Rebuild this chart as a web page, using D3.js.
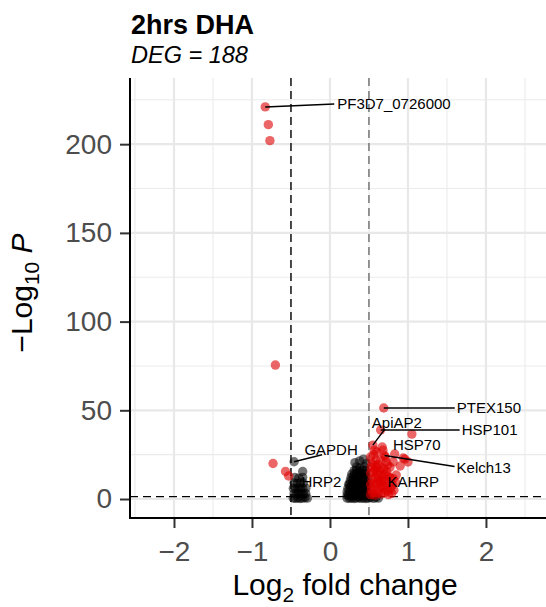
<!DOCTYPE html>
<html><head><meta charset="utf-8">
<script src="https://cdn.jsdelivr.net/npm/d3@7"></script>
<style>body{margin:0;background:#fff}svg{display:block}text{font-family:"Liberation Sans",Arial,sans-serif}</style>
</head><body>
<svg id="c" width="546" height="607"></svg>
<script>
// ---- data ----
const chartTitle = "2hrs DHA";
const chartSubtitle = "DEG = 188";
const xTicks = [-2, -1, 0, 1, 2];
const yTicks = [0, 50, 100, 150, 200];
const fcCutoff = 0.5;
const pCutoff = 1.301;

// non-significant genes near zero [log2FC, -log10P]
const nsMain = [
 [0.22,0.5],[0.25,0.4],[0.28,0.6],[0.31,0.3],[0.34,0.5],[0.37,0.7],[0.40,0.4],[0.43,0.6],[0.46,0.3],[0.49,0.5],[0.52,0.8],[0.56,0.4],[0.59,0.9],[0.62,0.5],
 [0.22,2.1],[0.24,2.1],[0.27,1.8],[0.30,2.3],[0.33,1.9],[0.36,2.2],[0.39,1.7],[0.42,2.4],[0.45,2.0],[0.48,1.9],
 [0.22,4.0],[0.25,4.1],[0.28,3.8],[0.31,4.3],[0.34,3.9],[0.37,4.2],[0.40,3.7],[0.43,4.4],[0.46,4.0],[0.49,3.9],
 [0.23,6.0],[0.26,6.2],[0.29,5.8],[0.32,6.1],[0.35,6.3],[0.38,5.9],[0.41,6.0],[0.44,6.4],[0.47,5.7],
 [0.24,8.3],[0.25,8.1],[0.28,7.9],[0.31,8.3],[0.34,8.0],[0.37,7.8],[0.40,8.2],[0.43,8.1],[0.46,7.7],[0.49,8.3],
 [0.26,10.2],[0.29,9.8],[0.32,10.1],[0.35,10.3],[0.38,9.9],[0.41,10.0],[0.44,10.4],[0.47,9.7],
 [0.27,12.1],[0.30,11.8],[0.33,12.3],[0.36,12.0],[0.39,11.9],[0.42,12.2],[0.45,12.0],[0.48,11.8],
 [0.28,14.1],[0.31,13.8],[0.34,14.2],[0.37,14.0],[0.40,13.9],[0.43,14.3],[0.46,14.1],
 [0.31,16.0],[0.34,16.3],[0.38,15.8],[0.42,16.2],[0.46,15.9],
 [0.34,18.1],[0.38,17.6],[0.44,18.2],
 [0.32,20.5],[0.38,21.5],[0.43,22.5],[0.47,20.0]
];
const nsLeft = [
 [-0.47,0.5],[-0.44,0.4],[-0.41,0.6],[-0.38,0.3],[-0.35,0.5],[-0.32,0.7],[-0.29,0.5],
 [-0.46,3.1],[-0.43,2.8],[-0.40,3.2],[-0.37,2.9],[-0.34,3.0],[-0.31,3.1],
 [-0.47,6.0],[-0.44,5.8],[-0.41,6.2],[-0.38,6.1],[-0.35,5.9],[-0.31,6.1],
 [-0.46,9.1],[-0.42,8.8],[-0.38,9.2],[-0.34,9.0],
 [-0.45,12.1],[-0.40,11.8],[-0.35,12.2],
 [-0.35,15.5],[-0.46,21.0]
];
// significant genes
const sigPoints = [
 [-0.83,221.0],[-0.79,211.0],[-0.77,202.0],[-0.70,75.5],[-0.73,20.0],[-0.57,15.5],[-0.53,13.0],
 [0.52,2.5],[0.55,3.5],[0.58,2.2],[0.62,3.4],[0.66,2.8],[0.70,3.6],[0.75,2.5],[0.79,3.2],
 [0.53,5.5],[0.57,6.4],[0.61,5.0],[0.65,6.8],[0.69,5.8],[0.74,4.5],[0.78,6.0],[0.82,5.0],
 [0.52,8.2],[0.56,9.0],[0.60,8.5],[0.64,9.6],[0.68,8.0],[0.72,7.2],[0.76,9.0],[0.80,8.0],[0.84,9.5],
 [0.54,11.2],[0.58,12.0],[0.62,11.0],[0.66,10.0],[0.70,10.8],[0.68,12.4],[0.77,12.0],[0.81,11.5],
 [0.52,14.7],[0.56,15.5],[0.60,14.2],[0.64,16.0],[0.73,15.2],[0.63,13.5],[0.74,13.0],[0.70,14.0],[0.85,13.5],
 [0.53,18.0],[0.57,19.0],[0.60,18.0],[0.66,17.5],[0.77,18.0],[0.90,18.6],[0.58,16.5],[0.69,17.0],
 [0.54,20.3],[0.59,22.0],[0.52,23.7],[0.74,19.2],[0.81,20.9],[1.00,20.9],[0.96,22.5],[0.94,23.1],[0.62,19.5],[0.72,21.0],[0.65,22.0],
 [0.60,26.5],[0.71,23.7],[0.83,25.4],[0.70,24.5],[0.68,27.5],[0.55,30.4],[0.67,29.3],[0.56,25.0],[0.57,27.5],
 [0.65,38.9],[1.05,36.6],[0.69,51.3]
];
// labelled genes
const geneNames = ["PF3D7_0726000","PTEX150","HSP101","ApiAP2","HSP70","Kelch13","KAHRP","GAPDH","HRP2"];
const geneFC    = [-0.83, 0.69, 0.65, 0.55, 0.68, 0.70, 0.66, -0.46, -0.34];
const geneP     = [221.0, 51.3, 38.9, 30.4, 27.5, 24.5, 10.0, 21.0, 10.0];

// ---- layout (pixels) ----
const labelLayout = {
 "PF3D7_0726000": {dx:72, dy:-3, anchor:"start", line:true, lx:69, ly:-3},
 "PTEX150": {dx:73, dy:0, anchor:"start", line:true, lx:71, ly:0},
 "HSP101": {dx:81, dy:0, anchor:"start", line:true, lx:79, ly:0},
 "ApiAP2": {dx:24, dy:-22, anchor:"middle", line:true, lx:12, ly:-16},
 "HSP70": {dx:10, dy:-5, anchor:"start", line:false},
 "Kelch13": {dx:72, dy:12, anchor:"start", line:true, lx:70, ly:11},
 "KAHRP": {dx:6, dy:0, anchor:"start", line:false},
 "GAPDH": {dx:37, dy:-12, anchor:"middle", line:true, lx:28, ly:-7},
 "HRP2": {dx:18, dy:0, anchor:"middle", line:false}
};

const svg = d3.select("#c");
const L = 130, R = 546, T = 78, B = 518;
const x = d3.scaleLinear().domain([-2.564, 2.77]).range([L, R]);
const y = d3.scaleLinear().domain([-10.7, 237.3]).range([B, T]);

// grid
const g = svg.append("g");
const xMinor = [-2.5,-1.5,-0.5,0.5,1.5,2.5];
const yMinor = [25,75,125,175,225];
g.selectAll(".vmin").data(xMinor).join("line").attr("x1",d=>x(d)).attr("x2",d=>x(d)).attr("y1",T).attr("y2",B).attr("stroke","#ebebeb").attr("stroke-width",1.1);
g.selectAll(".hmin").data(yMinor).join("line").attr("y1",d=>y(d)).attr("y2",d=>y(d)).attr("x1",L).attr("x2",R).attr("stroke","#ebebeb").attr("stroke-width",1.1);
g.selectAll(".vmaj").data(xTicks).join("line").attr("x1",d=>x(d)).attr("x2",d=>x(d)).attr("y1",T).attr("y2",B).attr("stroke","#e8e8e8").attr("stroke-width",2.2);
g.selectAll(".hmaj").data(yTicks).join("line").attr("y1",d=>y(d)).attr("y2",d=>y(d)).attr("x1",L).attr("x2",R).attr("stroke","#e8e8e8").attr("stroke-width",2.2);

// cutoff lines
svg.append("line").attr("x1",x(-fcCutoff)).attr("x2",x(-fcCutoff)).attr("y1",T).attr("y2",B).attr("stroke","#000").attr("stroke-width",1.4).attr("stroke-dasharray","8,5");
svg.append("line").attr("x1",x(fcCutoff)).attr("x2",x(fcCutoff)).attr("y1",T).attr("y2",B).attr("stroke","#555").attr("stroke-width",1.2).attr("stroke-dasharray","8,5");
svg.append("line").attr("x1",L).attr("x2",R).attr("y1",y(pCutoff)).attr("y2",y(pCutoff)).attr("stroke","#000").attr("stroke-width",1.2).attr("stroke-dasharray","8,5");

// points
const pts = svg.append("g");
const isSig = d => Math.abs(d[0]) > fcCutoff && d[1] > pCutoff;
const all = nsMain.concat(nsLeft).concat(sigPoints);
pts.selectAll("circle").data(all).join("circle")
  .attr("cx",d=>x(d[0])).attr("cy",d=>y(d[1])).attr("r",4.7)
  .attr("fill",d=>isSig(d)?"#dd0000":"#000").attr("fill-opacity",d=>isSig(d)?0.6:0.55);

// gene labels (drawn above points)
const genes = geneNames.map((n,i)=>({name:n, fc:geneFC[i], p:geneP[i]}));
const lab = svg.append("g");
genes.forEach(d=>{
  const lo = labelLayout[d.name]; const px = x(d.fc), py = y(d.p);
  if (lo.line) lab.append("line").attr("x1",px).attr("y1",py).attr("x2",px+lo.lx).attr("y2",py+lo.ly).attr("stroke","#000").attr("stroke-width",1.5);
  lab.append("text").attr("x",px+lo.dx).attr("y",py+lo.dy).attr("dy","0.35em").attr("text-anchor",lo.anchor).attr("font-size",15).attr("fill","#000").text(d.name);
});

// axes
const ax = svg.append("g").attr("transform",`translate(${L},0)`).call(d3.axisLeft(y).tickValues(yTicks).tickSize(10).tickPadding(8));
ax.select(".domain").remove();
ax.selectAll(".tick line").attr("stroke","#333").attr("stroke-width",2);
ax.selectAll(".tick text").attr("font-size",28).attr("fill","#4d4d4d").attr("font-family","Liberation Sans, Arial, sans-serif");
const bx = svg.append("g").attr("transform",`translate(0,${B})`).call(d3.axisBottom(x).tickValues(xTicks).tickSize(10).tickPadding(13).tickFormat(d=>d<0?"\u2212"+Math.abs(d):d));
bx.select(".domain").remove();
bx.selectAll(".tick line").attr("stroke","#333").attr("stroke-width",2);
bx.selectAll(".tick text").attr("font-size",28).attr("fill","#4d4d4d").attr("font-family","Liberation Sans, Arial, sans-serif");
svg.append("line").attr("x1",L).attr("x2",L).attr("y1",T).attr("y2",B+1).attr("stroke","#000").attr("stroke-width",2);
svg.append("line").attr("x1",L-1).attr("x2",R).attr("y1",B).attr("y2",B).attr("stroke","#000").attr("stroke-width",2);

// axis titles
const xt = svg.append("text").attr("x",345).attr("y",595).attr("text-anchor","middle").attr("font-size",30).attr("fill","#000");
xt.append("tspan").text("Log");
xt.append("tspan").attr("font-size",21).attr("dy",7).text("2");
xt.append("tspan").attr("dy",-7).text(" fold change");
const yt = svg.append("text").attr("transform","translate(32,293) rotate(-90)").attr("text-anchor","middle").attr("font-size",30).attr("fill","#000");
yt.append("tspan").text("\u2212Log");
yt.append("tspan").attr("font-size",21).attr("dy",7).text("10");
yt.append("tspan").attr("dy",-7).text(" ");
yt.append("tspan").attr("font-style","italic").text("P");

// titles
svg.append("text").attr("x",131).attr("y",34).attr("font-size",27).attr("font-weight","bold").attr("fill","#000").text(chartTitle);
svg.append("text").attr("x",131).attr("y",63).attr("font-size",23.5).attr("font-style","italic").attr("fill","#000").text(chartSubtitle);
</script>
</body></html>
